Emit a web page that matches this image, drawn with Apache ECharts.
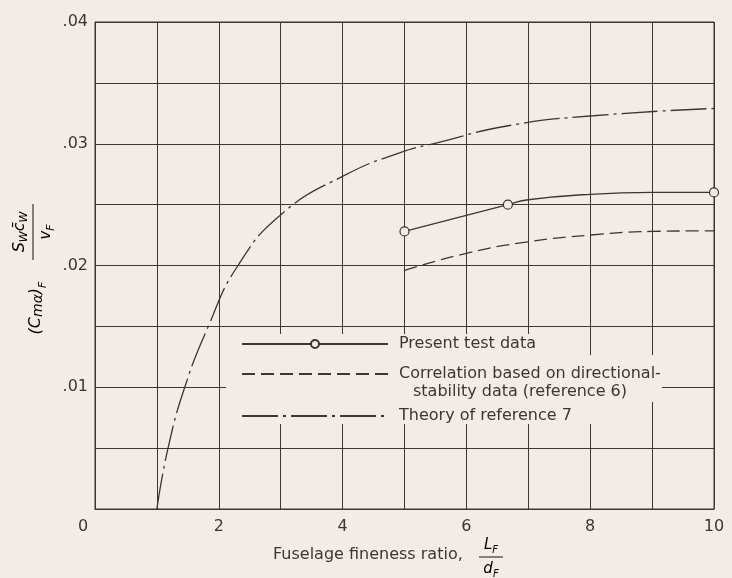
<!DOCTYPE html>
<html>
<head>
<meta charset="utf-8">
<script src="https://cdn.jsdelivr.net/npm/echarts@6/dist/echarts.min.js"></script>
<style>
  html, body { margin: 0; padding: 0; background: #f3ece6; }
  #chart { width: 732px; height: 578px; }
</style>
</head>
<body>
<div id="chart"></div>
<script>
// present test data (measured points) and the faired curve through them
var testX = [5, 6.67, 10];
var testY = [0.0228, 0.0250, 0.0260];
var fairX = [5, 6.67, 7, 8, 9, 10];
var fairY = [0.0228, 0.0250, 0.0254, 0.02585, 0.0260, 0.0260];
// correlation based on directional-stability data (reference 6)
var corrX = [5, 6, 7, 8, 9, 10];
var corrY = [0.0196, 0.0210, 0.02195, 0.0225, 0.0228, 0.02285];
// theory of reference 7
var theoryX = [1.0, 1.18, 1.45, 1.83, 2.31, 3.03, 4.03, 4.92, 5.54, 6.7, 8.05, 10];
var theoryY = [0, 0.005, 0.010, 0.015, 0.020, 0.0243, 0.0274, 0.02925, 0.0301, 0.0315, 0.0323, 0.0329];

var bg = "#f3ece6";
var ink = "#3a3633";
var font = "DejaVu Sans";

var myChart = echarts.init(document.getElementById("chart"));

//faired curve, symbols only on the measured points
var testData = fairX.map(function (x, i) {
  var isTest = testX.indexOf(x) >= 0;
  return isTest ? { value: [x, fairY[i]] } : { value: [x, fairY[i]], symbol: "none" };
});
var corrData = corrX.map(function (x, i) { return [x, corrY[i]]; });
var theoryData = theoryX.map(function (x, i) { return [x, theoryY[i]]; });

function legendBox(name, top, noSymbol) {
  var lg = {
    data: [name],
    left: 236,
    top: top,
    itemWidth: 146,
    itemHeight: 10,
    selectedMode: false,
    formatter: function (n) { return "{t|" + (n.indexOf("Correlation") === 0 ? "Correlation based on directional-" : n) + "}"; },
    textStyle: {
      rich: { t: { fontFamily: font, fontSize: 16, color: ink, padding: [0, 0, 0, 6] } }
    }
  };
  if (noSymbol) {
    lg.itemStyle = { color: "transparent", borderColor: "transparent", borderWidth: 0 };
  }
  return lg;
}

var option = {
  backgroundColor: bg,
  animation: false,
  grid: { left: 95, right: 18, top: 22, bottom: 69, show: true, borderColor: ink, borderWidth: 1 },
  xAxis: {
    type: "value",
    min: 0,
    max: 10,
    interval: 1,
    axisLine: { show: true, lineStyle: { color: ink, width: 1 } },
    axisTick: { show: false },
    splitLine: { show: true, lineStyle: { color: ink, width: 1 } },
    axisLabel: {
      margin: 10,
      fontFamily: font,
      fontSize: 16,
      color: ink,
      formatter: function (v) {
        if (v % 2 !== 0) return "";
        return v === 0 ? "{z|0}" : String(v);
      },
      rich: { z: { fontFamily: font, fontSize: 16, color: ink, padding: [0, 24, 0, 0] } }
    }
  },
  yAxis: {
    type: "value",
    min: 0,
    max: 0.04,
    interval: 0.005,
    axisLine: { show: true, lineStyle: { color: ink, width: 1 } },
    axisTick: { show: false },
    splitLine: { show: true, lineStyle: { color: ink, width: 1 } },
    axisLabel: {
      margin: 7,
      fontFamily: font,
      fontSize: 16,
      color: ink,
      formatter: function (v) {
        var k = Math.round(v * 1000);
        if (k === 0 || k % 10 !== 0) return "";
        return ".0" + k / 10;
      }
    }
  },
  legend: [
    legendBox("Present test data", 331, false),
    legendBox("Correlation based on directional-stability data (reference 6)", 361, true),
    legendBox("Theory of reference 7", 403, true)
  ],
  graphic: [
    //blank patch behind the legend, the grid is cut out there
    {
      type: "polygon",
      z: 3,
      shape: { points: [[226, 334], [566, 334], [566, 355], [662, 355], [662, 402], [600, 402], [600, 424], [226, 424]] },
      style: { fill: bg }
    },
    {
      type: "text",
      left: 413,
      top: 384,
      z: 5,
      style: { text: "stability data (reference 6)", font: "16px " + font, fill: ink }
    },
    //y axis title: (Cm\u03b1)F  SW cW / vF, rotated
    {
      type: "text",
      x: 36,
      y: 308,
      rotation: Math.PI / 2,
      z: 5,
      style: {
        text: "{n|(C}{s|m\u03b1}{n|)}{f|F}",
        align: "center",
        verticalAlign: "middle",
        rich: {
          n: { fontFamily: font, fontSize: 16, fontStyle: "italic", color: ink },
          s: { fontFamily: font, fontSize: 14, fontStyle: "italic", color: ink, padding: [4, 0, 0, 0] },
          f: { fontFamily: font, fontSize: 11, fontStyle: "italic", color: ink, padding: [14, 0, 0, 0] }
        }
      }
    },
    {
      type: "group",
      x: 33,
      y: 232,
      rotation: Math.PI / 2,
      z: 5,
      children: [
        { type: "line", shape: { x1: -28, y1: 0, x2: 28, y2: 0 }, style: { stroke: ink, lineWidth: 1.2 } },
        {
          type: "text",
          x: 0,
          y: -3,
          style: {
            text: "{n|S}{s|W}{n|c\u0304}{s|W}",
            align: "center",
            verticalAlign: "bottom",
            rich: {
              n: { fontFamily: font, fontSize: 16, fontStyle: "italic", color: ink },
              s: { fontFamily: font, fontSize: 11, fontStyle: "italic", color: ink, padding: [10, 0, 0, 0] }
            }
          }
        },
        {
          type: "text",
          x: 0,
          y: 3,
          style: {
            text: "{n|v}{s|F}",
            align: "center",
            verticalAlign: "top",
            rich: {
              n: { fontFamily: font, fontSize: 15, fontStyle: "italic", color: ink },
              s: { fontFamily: font, fontSize: 11, fontStyle: "italic", color: ink, padding: [10, 0, 0, 0] }
            }
          }
        }
      ]
    },
    //x axis title
    {
      type: "text",
      left: 273,
      top: 547,
      z: 5,
      style: { text: "Fuselage fineness ratio,", font: "16px " + font, fill: ink }
    },
    { type: "line", z: 5, shape: { x1: 479, y1: 557, x2: 503, y2: 557 }, style: { stroke: ink, lineWidth: 1.2 } },
    {
      type: "text",
      x: 491,
      y: 555,
      z: 5,
      style: {
        text: "{n|L}{s|F}",
        align: "center",
        verticalAlign: "bottom",
        rich: {
          n: { fontFamily: font, fontSize: 15, fontStyle: "italic", color: ink },
          s: { fontFamily: font, fontSize: 10, fontStyle: "italic", color: ink, padding: [10, 0, 0, 0] }
        }
      }
    },
    {
      type: "text",
      x: 491,
      y: 559,
      z: 5,
      style: {
        text: "{n|d}{s|F}",
        align: "center",
        verticalAlign: "top",
        rich: {
          n: { fontFamily: font, fontSize: 15, fontStyle: "italic", color: ink },
          s: { fontFamily: font, fontSize: 10, fontStyle: "italic", color: ink, padding: [10, 0, 0, 0] }
        }
      }
    }
  ],
  series: [
    {
      name: "Present test data",
      type: "line",
      smooth: true,
      data: testData,
      symbol: "circle",
      symbolSize: 9,
      itemStyle: { color: bg, borderColor: ink, borderWidth: 1.2 },
      lineStyle: { color: ink, width: 1.3 },
      z: 6
    },
    {
      name: "Correlation based on directional-stability data (reference 6)",
      type: "line",
      smooth: true,
      data: corrData,
      symbol: "none",
      itemStyle: { color: ink },
      lineStyle: { color: ink, width: 1.3, type: [13, 6] },
      z: 6
    },
    {
      name: "Theory of reference 7",
      type: "line",
      smooth: true,
      data: theoryData,
      symbol: "none",
      itemStyle: { color: ink },
      lineStyle: { color: ink, width: 1.3, type: [36, 5, 3, 5] },
      z: 6
    }
  ]
};

myChart.setOption(option);
</script>
</body>
</html>
